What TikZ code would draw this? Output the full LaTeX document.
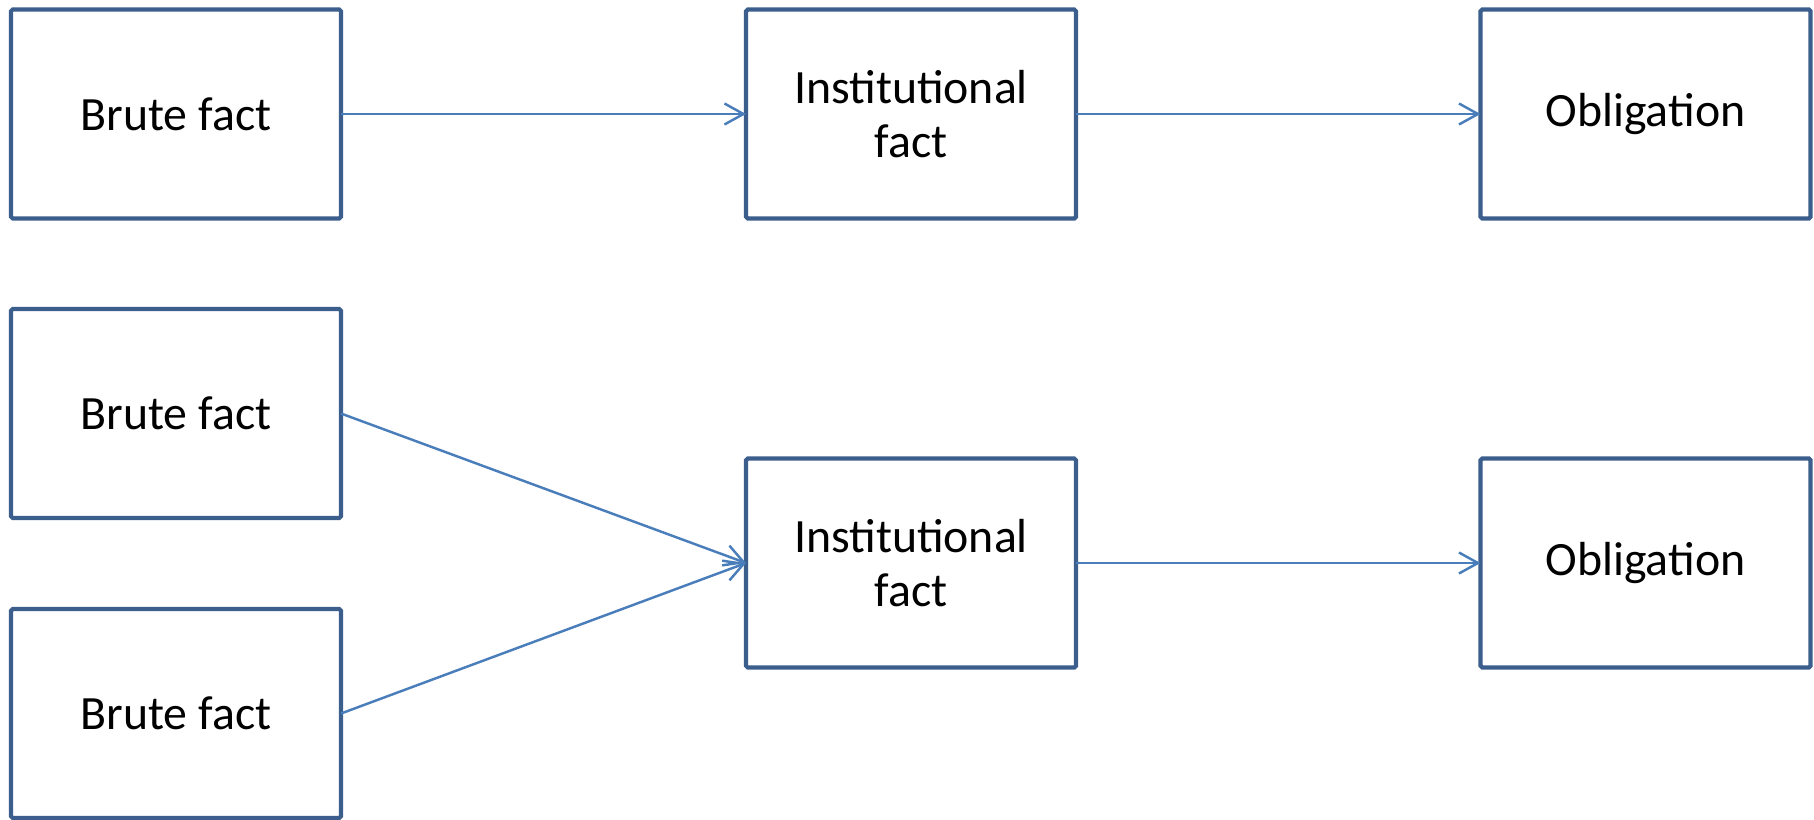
\documentclass[tikz,border=0pt]{standalone}
\usepackage{fontspec}
\setmainfont{Carlito}
\usetikzlibrary{arrows.meta}
\definecolor{boxblue}{HTML}{3B5E8C}
\definecolor{arrowblue}{HTML}{4A7EBB}
\begin{document}
\begin{tikzpicture}
        \tikzstyle{fact} = [rectangle, draw=boxblue, line width=1.2pt, rounded corners=0.5pt, minimum width=3.3cm, minimum height=2.09cm, align=center, outer sep=0pt, font=\fontsize{13.6pt}{15.6pt}\selectfont]
        \tikzstyle{arrow} = [draw=arrowblue, line width=0.7pt, -{Straight Barb[length=0.19cm, width=0.21cm]}]
        \useasboundingbox (0,0) rectangle (18.14,8.19);

        \node [fact] (brute)  at (1.76,7.05)   {Brute fact};
        \node [fact] (inst)   at (9.11,7.05)   {Institutional\\fact};
        \node [fact] (oblig)  at (16.455,7.05) {Obligation};

        \node [fact] (bruteA) at (1.76,4.055)  {Brute fact};
        \node [fact] (bruteB) at (1.76,1.055)  {Brute fact};
        \node [fact] (instB)  at (9.11,2.56)   {Institutional\\fact};
        \node [fact] (obligB) at (16.455,2.56) {Obligation};

        \draw [arrow] (brute) -- (inst);
        \draw [arrow] (inst) -- (oblig);
        \draw [arrow] (bruteA.east) -- (instB.west);
        \draw [arrow] (bruteB.east) -- (instB.west);
        \draw [arrow] (instB) -- (obligB);
\end{tikzpicture}
\end{document}
